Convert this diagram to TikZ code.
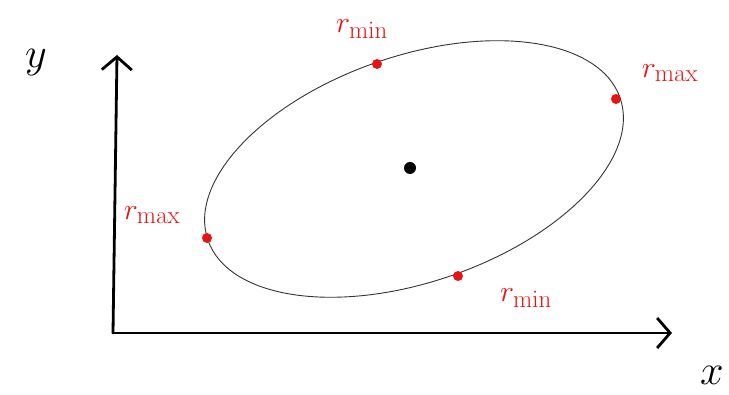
\documentclass[tikz,border=0pt]{standalone}
\usepackage{tikz}
\usetikzlibrary{positioning,arrows.meta,calc}
\definecolor{rougepoint}{RGB}{230,20,20}

\begin{document}
\begin{tikzpicture}[x=1pt,y=1pt,
  axe/.style={line width=2.8pt,line cap=round,-{Straight Barb[length=13pt,width=30pt]}},
  point/.style={circle,fill=rougepoint,inner sep=0pt,minimum size=10pt},
  etiquette/.style={text=rougepoint,font=\Huge,scale=1.2,inner sep=0pt}]
\useasboundingbox (0,0) rectangle (729,395);
\coordinate (O) at (113,62);
\coordinate (Ytip) at (117,340);
\coordinate (Xtip) at (672,62);
\coordinate (c) at (414,226);
\draw[axe] (O) -- (Ytip);
\draw[axe] (O) -- (Xtip);
\node[font=\Huge,scale=1.7] (ylab) at (36,332) {$y$};
\node[font=\Huge,scale=1.7] (xlab) at (712,20) {$x$};
\draw[line width=0.9pt,black!80,rotate around={19:(c)}] (c) ellipse [x radius=218,y radius=113];
\node[circle,fill=black,inner sep=0pt,minimum size=12pt] (centre) at (410,227) {};
\node[point] (haut) at (377,331) {};
\node[point] (droite) at (616,296) {};
\node[point] (gauche) at (207,157) {};
\node[point] (bas) at (458,119) {};
\node[etiquette] (lhaut) at (362,366) {$r_{\mathrm{min}}$};
\node[etiquette] (ldroite) at (670,322) {$r_{\mathrm{max}}$};
\node[etiquette] (lgauche) at (152,180) {$r_{\mathrm{max}}$};
\node[etiquette] (lbas) at (526,97) {$r_{\mathrm{min}}$};
\end{tikzpicture}
\end{document}
